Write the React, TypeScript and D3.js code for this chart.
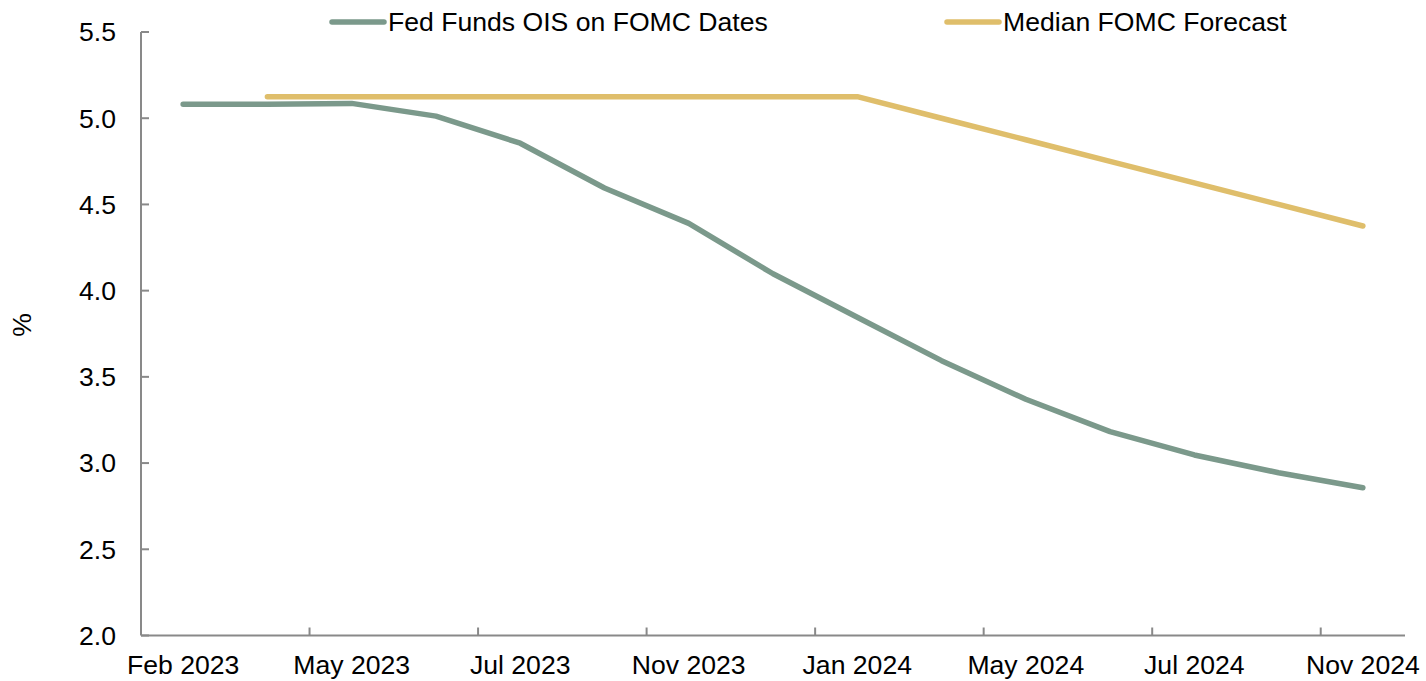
import React from "react";
import * as d3 from "d3";

const categories = [
  "Feb 2023", "Mar 2023", "May 2023", "Jun 2023", "Jul 2023", "Sep 2023", "Nov 2023", "Dec 2023",
  "Jan 2024", "Mar 2024", "May 2024", "Jun 2024", "Jul 2024", "Sep 2024", "Nov 2024",
];
const oisValues: (number | null)[] = [
  5.081, 5.081, 5.086, 5.012, 4.855, 4.595, 4.39, 4.098, 3.846, 3.594, 3.37, 3.182, 3.047, 2.944, 2.857,
];
const fomcValues: (number | null)[] = [
  null, 5.125, 5.125, 5.125, 5.125, 5.125, 5.125, 5.125, 5.125, 5.0, 4.875, 4.75, 4.625, 4.5, 4.375,
];
const yTicks = [2.0, 2.5, 3.0, 3.5, 4.0, 4.5, 5.0, 5.5];
const xLabelEvery = 2;
const seriesNames = ["Fed Funds OIS on FOMC Dates", "Median FOMC Forecast"];

const W = 1426, H = 681;
const left = 141, right = 1405, top = 32, bottom = 635.5;
const GREEN = "#7b998b";
const GOLD = "#dfbe6b";
const AXIS = "#898989";
const FONT = "'Liberation Sans', Arial, sans-serif";
const FS = 26.6;

export default function App() {
  const x = d3.scaleBand<string>().domain(categories).range([left, right]).padding(0);
  const y = d3.scaleLinear().domain([2.0, 5.5]).range([bottom, top]);
  const cx = (c: string) => (x(c) as number) + x.bandwidth() / 2;

  const line = d3
    .line<number | null>()
    .defined((d) => d !== null)
    .x((_, i) => cx(categories[i]))
    .y((d) => y(d as number));

  const tickIdx = categories.map((_, i) => i).filter((i) => i > 0 && i % xLabelEvery === 0);

  return (
    <svg width={W} height={H} style={{ position: "fixed", left: 0, top: 0, background: "#fff" }} fontFamily={FONT}>
      {/* axes */}
      <line x1={left} x2={left} y1={top} y2={bottom} stroke={AXIS} strokeWidth={2} />
      <line x1={left} x2={right} y1={bottom} y2={bottom} stroke={AXIS} strokeWidth={2} />
      {yTicks.map((t) => (
        <g key={t}>
          <line x1={left} x2={left + 8} y1={y(t)} y2={y(t)} stroke={AXIS} strokeWidth={2} />
          <text x={116} y={y(t)} dy="0.35em" textAnchor="end" fontSize={FS} fill="#000">
            {t.toFixed(1)}
          </text>
        </g>
      ))}
      {tickIdx.map((i) => (
        <line
          key={i}
          x1={x(categories[i]) as number}
          x2={x(categories[i]) as number}
          y1={bottom}
          y2={bottom - 8}
          stroke={AXIS}
          strokeWidth={2}
        />
      ))}
      {categories.map((c, i) =>
        i % xLabelEvery === 0 ? (
          <text key={c} x={cx(c)} y={674} textAnchor="middle" fontSize={FS} fill="#000">
            {c}
          </text>
        ) : null
      )}
      <text transform={`translate(22,325) rotate(-90)`} textAnchor="middle" dy="0.35em" fontSize={FS} fill="#000">
        %
      </text>

      {/* series */}
      <path d={line(oisValues) || ""} fill="none" stroke={GREEN} strokeWidth={5.5} strokeLinecap="round" strokeLinejoin="round" />
      <path d={line(fomcValues) || ""} fill="none" stroke={GOLD} strokeWidth={5.5} strokeLinecap="round" strokeLinejoin="round" />

      {/* legend */}
      <line x1={332} x2={384} y1={22} y2={22} stroke={GREEN} strokeWidth={5.5} strokeLinecap="round" />
      <text x={388} y={22} dy="0.35em" fontSize={FS} fill="#000">{seriesNames[0]}</text>
      <line x1={947} x2={999} y1={22} y2={22} stroke={GOLD} strokeWidth={5.5} strokeLinecap="round" />
      <text x={1003} y={22} dy="0.35em" fontSize={FS} fill="#000">{seriesNames[1]}</text>
    </svg>
  );
}
